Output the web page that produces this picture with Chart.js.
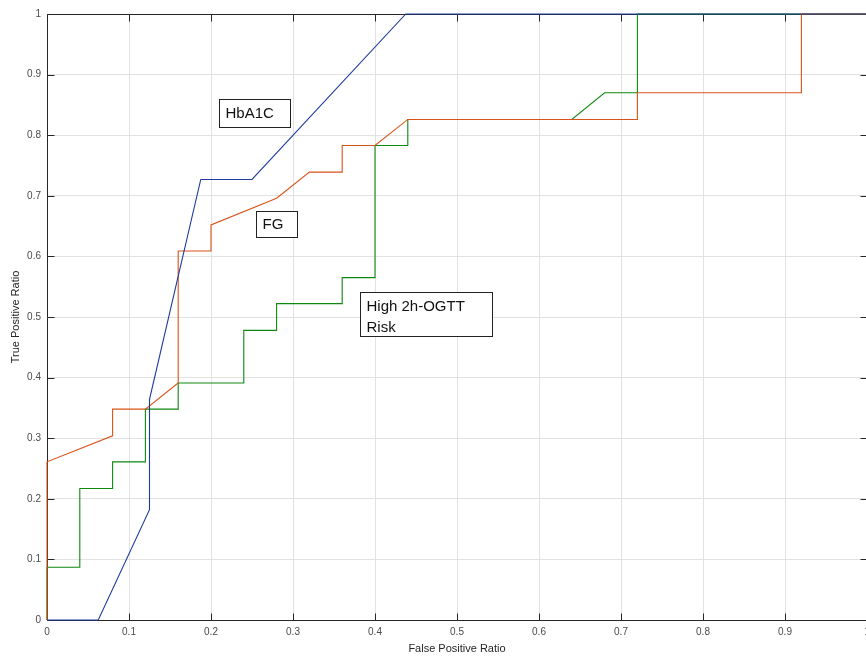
<!DOCTYPE html>
<html>
<head>
<meta charset="utf-8">
<script src="https://cdn.jsdelivr.net/npm/chart.js@4.4.1/dist/chart.umd.min.js"></script>
<style>
  html, body { margin: 0; padding: 0; background: #fff; overflow: hidden; }
  #wrap { position: relative; width: 870px; height: 660px; }
</style>
</head>
<body>
<div id="wrap"><canvas id="roc"></canvas></div>
<script>
// ROC curves: false positive ratio vs true positive ratio
const hba1cFpr = [0, 0.0625, 0.125, 0.125, 0.1875, 0.25, 0.4375, 1];
const hba1cTpr = [0, 0, 0.182, 0.364, 0.727, 0.727, 1, 1];

const fgFpr = [0, 0, 0.08, 0.08, 0.12, 0.16, 0.16, 0.2, 0.2, 0.28, 0.32, 0.36, 0.36, 0.4, 0.44, 0.72, 0.72, 0.92, 0.92, 1];
const fgTpr = [0, 0.261, 0.304, 0.348, 0.348, 0.391, 0.609, 0.609, 0.652, 0.696, 0.739, 0.739, 0.783, 0.783, 0.826, 0.826, 0.870, 0.870, 1, 1];

const ogttFpr = [0, 0, 0.04, 0.04, 0.08, 0.08, 0.12, 0.12, 0.16, 0.16, 0.24, 0.24, 0.28, 0.28, 0.36, 0.36, 0.4, 0.4, 0.44, 0.44, 0.64, 0.68, 0.72, 0.72, 1];
const ogttTpr = [0, 0.087, 0.087, 0.217, 0.217, 0.261, 0.261, 0.348, 0.348, 0.391, 0.391, 0.478, 0.478, 0.522, 0.522, 0.565, 0.565, 0.783, 0.783, 0.826, 0.826, 0.870, 0.870, 1, 1];

const tickValues = [0, 0.1, 0.2, 0.3, 0.4, 0.5, 0.6, 0.7, 0.8, 0.9, 1];

// text boxes placed on the plot (anchor = top-left corner in data units)
const curveLabels = [
  { lines: ['HbA1C'], x: 0.2098, y: 0.8593, w: 71, h: 28 },
  { lines: ['FG'], x: 0.2549, y: 0.675, w: 41, h: 26 },
  { lines: ['High 2h-OGTT', 'Risk'], x: 0.3817, y: 0.5413, w: 132, h: 44 },
];

const FONT = "'Liberation Sans', Arial, Helvetica, sans-serif";
const AXIS_COLOR = '#262626';

function toPoints(xs, ys) {
  return xs.map((x, i) => ({ x, y: ys[i] }));
}

// box around the axes with inward tick marks on every side
const axesBox = {
  id: 'axesBox',
  beforeDatasetsDraw(chart) {
    const { ctx, chartArea: a, scales } = chart;
    const L = a.left + 0.5, R = a.right + 0.5, T = a.top + 0.5, B = a.bottom + 0.5;
    const len = 7;
    ctx.save();
    ctx.strokeStyle = AXIS_COLOR;
    ctx.lineWidth = 1;
    ctx.beginPath();
    ctx.rect(L, T, R - L, B - T);
    tickValues.forEach(v => {
      const px = Math.round(scales.x.getPixelForValue(v)) + 0.5;
      ctx.moveTo(px, B); ctx.lineTo(px, B - len);
      ctx.moveTo(px, T); ctx.lineTo(px, T + len);
      const py = Math.round(scales.y.getPixelForValue(v)) + 0.5;
      ctx.moveTo(L, py); ctx.lineTo(L + len, py);
      ctx.moveTo(R, py); ctx.lineTo(R - len, py);
    });
    ctx.stroke();
    ctx.restore();
  },
  afterDatasetsDraw(chart) {
    const { ctx, scales } = chart;
    ctx.save();
    ctx.font = '15px ' + FONT;
    ctx.textBaseline = 'middle';
    curveLabels.forEach(lb => {
      const x = Math.round(scales.x.getPixelForValue(lb.x)) + 0.5;
      const y = Math.round(scales.y.getPixelForValue(lb.y)) + 0.5;
      ctx.fillStyle = '#fff';
      ctx.fillRect(x, y, lb.w, lb.h);
      ctx.strokeStyle = '#222';
      ctx.lineWidth = 1;
      ctx.strokeRect(x, y, lb.w, lb.h);
      ctx.fillStyle = '#111';
      const step = lb.lines.length > 1 ? 21 : 0;
      const y0 = lb.lines.length > 1 ? y + 14 : y + lb.h / 2;
      lb.lines.forEach((t, i) => ctx.fillText(t, x + 6, y0 + i * step));
    });
    ctx.restore();
  }
};

const lineStyle = { showLine: true, pointRadius: 0, borderWidth: 1.1, tension: 0, fill: false, clip: false };

new Chart(document.getElementById('roc'), {
  type: 'scatter',
  data: {
    datasets: [
      { label: 'HbA1C', data: toPoints(hba1cFpr, hba1cTpr), borderColor: '#1e3a9e', ...lineStyle },
      { label: 'FG', data: toPoints(fgFpr, fgTpr), borderColor: '#d95319', ...lineStyle },
      { label: 'High 2h-OGTT Risk', data: toPoints(ogttFpr, ogttTpr), borderColor: '#0f880f', ...lineStyle },
    ]
  },
  options: {
    responsive: true,
    maintainAspectRatio: false,
    animation: false,
    layout: { padding: { top: 14, right: 3, left: 0, bottom: 0 } },
    plugins: { legend: { display: false }, tooltip: { enabled: false } },
    scales: {
      x: {
        type: 'linear', min: 0, max: 1,
        afterBuildTicks: s => { s.ticks = tickValues.map(v => ({ value: v })); },
        afterFit: s => { s.height = 40; s.paddingLeft = 0; s.paddingRight = 0; },
        grid: { color: '#e2e2e2', drawTicks: false },
        border: { display: false },
        ticks: { color: '#4a4a4a', padding: 6, maxRotation: 0, font: { family: FONT, size: 10 },
                 callback: v => String(+v.toFixed(1)) },
        title: { display: true, text: 'False Positive Ratio', color: AXIS_COLOR,
                 font: { family: FONT, size: 11 }, padding: { top: 0, bottom: 4 } }
      },
      y: {
        type: 'linear', min: 0, max: 1,
        afterBuildTicks: s => { s.ticks = tickValues.map(v => ({ value: v })); },
        afterFit: s => { s.width = 47; s.paddingTop = 0; s.paddingBottom = 0; },
        grid: { color: '#e2e2e2', drawTicks: false },
        border: { display: false },
        ticks: { color: '#4a4a4a', padding: 6, font: { family: FONT, size: 10 },
                 callback: v => String(+v.toFixed(1)) },
        title: { display: true, text: 'True Positive Ratio', color: AXIS_COLOR,
                 font: { family: FONT, size: 11 }, padding: { top: 9, bottom: 0 } }
      }
    }
  },
  plugins: [axesBox]
});
</script>
</body>
</html>
